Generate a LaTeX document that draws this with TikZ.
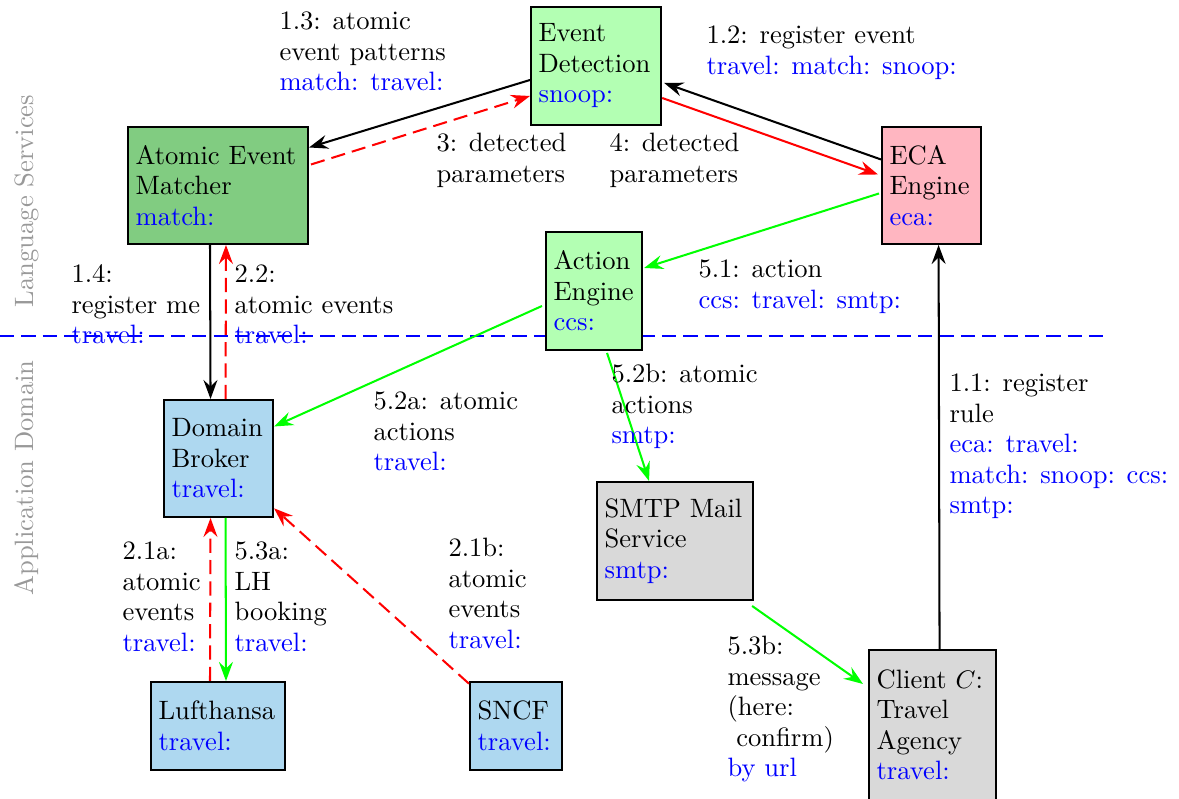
\documentclass[tikz,border=0pt]{standalone}
\usepackage[RGB]{xcolor}
\usepackage{tikz}
\usetikzlibrary{arrows.meta,calc}
\definecolor{evtgreen}{RGB}{179,255,179}
\definecolor{matgreen}{RGB}{129,204,129}
\definecolor{ecapink}{RGB}{255,182,193}
\definecolor{dombl}{RGB}{174,216,240}
\definecolor{mailgray}{RGB}{217,217,217}
\newcommand{\ns}[1]{\textcolor{blue}{#1}}
\tikzset{
  service/.style={draw, thick, anchor=north west, align=left, inner xsep=3pt, inner ysep=0pt},
  lbl/.style={inner sep=0pt, align=left, anchor=base west},
  msg/.style={thick, -{Stealth[length=7.5pt,width=5.5pt,inset=2.6pt]}},
  evdash/.style={red, dash pattern=on 5.6pt off 2.8pt},
  layer/.style={rotate=90, anchor=base, text=gray!80}
}

\begin{document}
\begin{tikzpicture}[x=0.3934pt, y=-0.3934pt, font=\fontsize{10.45}{12}\selectfont]
\useasboundingbox (0,0) rectangle (1179,799);
% layers
\draw[blue, thick, dash pattern=on 5.6pt off 2.8pt] (0,336) -- (1110,336);
\node[layer] (ls) at (33,201) {Language Services};
\node[layer] (ad) at (33,478) {Application Domain};
% services
\node[service, fill=evtgreen, text width=45.2pt, minimum height=46.4pt] (evt) at (530,6) {Event\\Detection\\\ns{snoop:}};
\node[service, fill=matgreen, text width=64.8pt, minimum height=46pt] (mat) at (127,126) {Atomic Event\\Matcher\\\ns{match:}};
\node[service, fill=ecapink, text width=33pt, minimum height=46pt] (eca) at (881,126) {ECA\\Engine\\\ns{eca:}};
\node[service, fill=evtgreen, text width=31.8pt, minimum height=46.4pt] (act) at (545,231) {Action\\Engine\\\ns{ccs:}};
\node[service, fill=dombl, text width=36.9pt, minimum height=46pt] (dbr) at (163,399) {Domain\\Broker\\\ns{travel:}};
\node[service, fill=dombl, text width=46.7pt, minimum height=34.6pt] (luf) at (150,681) {Lufthansa\\\ns{travel:}};
\node[service, fill=dombl, text width=30.2pt, minimum height=34.6pt] (sncf) at (469,681) {SNCF\\\ns{travel:}};
\node[service, fill=mailgray, text width=55.4pt, minimum height=46.4pt] (smtp) at (596,481) {SMTP Mail\\Service\\\ns{smtp:}};
\node[service, fill=mailgray, text width=44pt, minimum height=59pt] (cli) at (868,649) {Client $C$:\\Travel\\Agency\\\ns{travel:}};
% messages
\draw[msg] ($(evt.west)+(0,14)$) -- ($(mat.east)+(0,-38)$);
\draw[msg, evdash] ($(mat.east)+(2,-21)$) -- ($(evt.west)+(0,30)$);
\draw[msg] ($(eca.west)+(0,-26)$) -- ($(evt.east)+(2,17)$);
\draw[msg, red] ($(evt.east)+(0,32)$) -- ($(eca.west)+(-3,-11)$);
\draw[msg, green] ($(eca.west)+(-2,8)$) -- ($(act.east)+(1,-23)$);
\draw[msg] ($(mat.south)+(-8,0)$) -- ($(dbr.north)+(-8,0)$);
\draw[msg, evdash] ($(dbr.north)+(7,0)$) -- ($(mat.south)+(8,0)$);
\draw[msg, evdash] ($(luf.north)+(-8,0)$) -- ($(dbr.south)+(-8,0)$);
\draw[msg, green] ($(dbr.south)+(7,0)$) -- ($(luf.north)+(8,0)$);
\draw[msg, green] ($(act.west)+(-3,15)$) -- ($(dbr.east)+(0,-32)$);
\draw[msg, green] ($(act.south)+(13,2)$) -- ($(smtp.north)+(-26,0)$);
\draw[msg, evdash] (sncf) -- (dbr);
\draw[msg, green] ($(smtp.south east)+(-2,5)$) -- ($(cli.north west)+(-5,35)$);
\draw[msg] ($(cli.north)+(7,0)$) -- ($(eca.south)+(7,0)$);
% labels
\node[lbl] (l13) at (279,91) {1.3: atomic\\event patterns\\\ns{match: travel:}};
\node[lbl] (l12) at (706,74.5) {1.2: register event\\\ns{travel: match: snoop:}};
\node[lbl] (l3) at (436,182.5) {3: detected\\parameters};
\node[lbl] (l4) at (609,182.5) {4: detected\\parameters};
\node[lbl] (l14) at (71,344) {1.4:\\register me\\\ns{travel:}};
\node[lbl] (l22) at (234,344) {2.2:\\atomic events\\\ns{travel:}};
\node[lbl] (l51) at (698,308.5) {5.1: action\\\ns{ccs: travel: smtp:}};
\node[lbl] (l52a) at (373,471) {5.2a: atomic\\actions\\\ns{travel:}};
\node[lbl] (l52b) at (611,444) {5.2b: atomic\\actions\\\ns{smtp:}};
\node[lbl] (l11) at (949,514) {1.1: register\\rule\\\ns{eca: travel:}\\\ns{match: snoop: ccs:}\\\ns{smtp:}};
\node[lbl] (l21a) at (122,651.5) {2.1a:\\atomic\\events\\\ns{travel:}};
\node[lbl] (l53a) at (234,651.5) {5.3a:\\LH\\booking\\\ns{travel:}};
\node[lbl] (l21b) at (448,648.5) {2.1b:\\atomic\\events\\\ns{travel:}};
\node[lbl] (l53b) at (727,777) {5.3b:\\message\\(here:\\\ confirm)\\\ns{by url}};
\end{tikzpicture}
\end{document}
